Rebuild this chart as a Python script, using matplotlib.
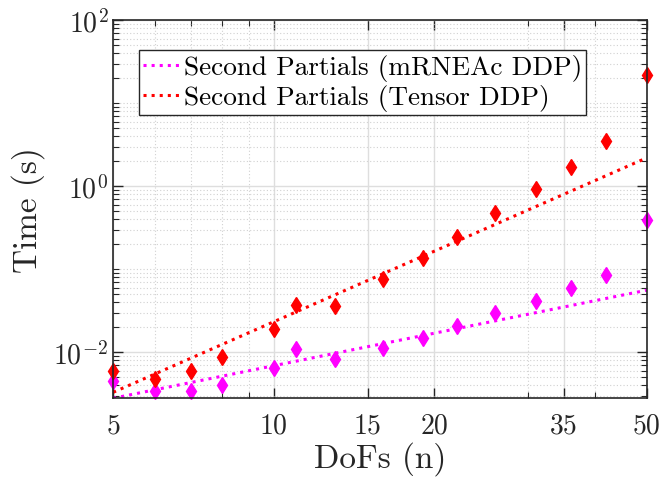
import numpy as np
import matplotlib
matplotlib.use("Agg")
import matplotlib.pyplot as plt
from matplotlib.ticker import FixedLocator, LogLocator, NullFormatter

plt.rcParams["font.family"] = "serif"
plt.rcParams["font.serif"] = ["cmr10"]
plt.rcParams["mathtext.fontset"] = "cm"
plt.rcParams["axes.formatter.use_mathtext"] = True

# data
dofs = [5, 6, 7, 8, 10, 11, 13, 16, 19, 22, 26, 31, 36, 42, 50]
t_mrneac = [0.0045, 0.0034, 0.0034, 0.0040, 0.0064, 0.011, 0.0082, 0.0112,
            0.0147, 0.0206, 0.030, 0.041, 0.059, 0.085, 0.39]
t_tensor = [0.0059, 0.0048, 0.0060, 0.0089, 0.019, 0.037, 0.036, 0.077,
            0.138, 0.248, 0.47, 0.92, 1.7, 3.5, 22.0]
fit_x = [5, 50]
fit_mrneac = [0.0028, 0.056]
fit_tensor = [0.0033, 2.2]

xticks = [5, 10, 15, 20, 35, 50]
yticks = [1e-2, 1e0, 1e2]
ytick_labels = [r"$10^{-2}$", r"$10^{0}$", r"$10^{2}$"]

dark = (0.15, 0.15, 0.15)

fig = plt.figure(figsize=(6.62, 4.81), dpi=100)
ax = fig.add_axes([0.171, 0.170, 0.806, 0.786])

ax.plot(fit_x, fit_mrneac, ":", color="magenta", lw=2.2,
        label="Second Partials (mRNEAc DDP)")
ax.plot(fit_x, fit_tensor, ":", color="red", lw=2.2,
        label="Second Partials (Tensor DDP)")
ax.plot(dofs, t_mrneac, "d", color="magenta", ms=8, clip_on=False)
ax.plot(dofs, t_tensor, "d", color="red", ms=8, clip_on=False)

ax.set_xscale("log")
ax.set_yscale("log")
ax.set_xlim(5, 50)
ax.set_ylim(0.0028, 100)

ax.xaxis.set_major_locator(FixedLocator(xticks))
ax.set_xticklabels([str(v) for v in xticks])
ax.xaxis.set_minor_locator(FixedLocator([6, 7, 8, 9, 30, 40]))
ax.xaxis.set_minor_formatter(NullFormatter())
ax.yaxis.set_major_locator(FixedLocator(yticks))
ax.set_yticklabels(ytick_labels)
ax.yaxis.set_minor_locator(LogLocator(base=10, subs=np.arange(1, 10), numticks=20))
ax.yaxis.set_minor_formatter(NullFormatter())

ax.grid(True, which="major", color=(0.87, 0.87, 0.87), lw=1.0, ls="-")
ax.grid(True, which="minor", color=(0.82, 0.82, 0.82), lw=0.8, ls=(0, (1, 2)))
ax.set_axisbelow(True)

ax.tick_params(which="both", direction="in", top=True, right=True,
               colors=dark, labelcolor=dark, labelsize=20)
ax.tick_params(which="major", length=7, width=1)
ax.tick_params(which="minor", length=4, width=0.8)
ax.tick_params(axis="x", pad=10)
for s in ax.spines.values():
    s.set_color(dark)
    s.set_linewidth(1.2)

ax.set_xlabel("DoFs (n)", fontsize=24, color=dark, labelpad=2)
ax.set_ylabel("Time (s)", fontsize=24, color=dark, labelpad=6)

leg = ax.legend(loc="upper left", bbox_to_anchor=(0.048, 0.92), fontsize=19.6,
                handlelength=1.4, handletextpad=0.1, borderpad=0.15,
                labelspacing=0.1, fancybox=False, framealpha=1,
                edgecolor=dark, borderaxespad=0)
leg.get_frame().set_linewidth(1.0)

fig.savefig("out.png", dpi=100)
